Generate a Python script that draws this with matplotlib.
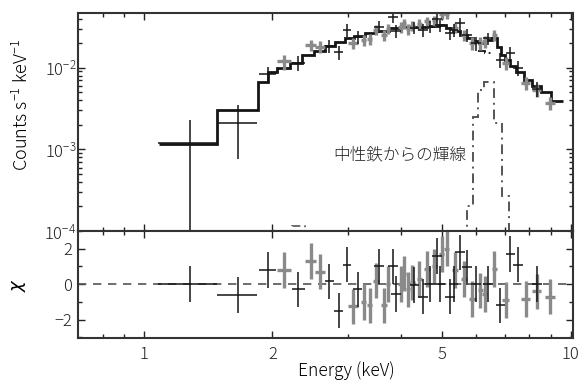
import numpy as np
import matplotlib
matplotlib.use("Agg")
import matplotlib.pyplot as plt
from matplotlib.ticker import LogLocator, FixedLocator, NullFormatter, FixedFormatter

plt.rcParams['font.family'] = ['Noto Sans CJK JP', 'DejaVu Sans']
plt.rcParams['font.weight'] = 'light'
plt.rcParams['axes.labelweight'] = 'light'
plt.rcParams['mathtext.fontset'] = 'custom'
plt.rcParams['mathtext.rm'] = 'Noto Sans CJK JP:light'
plt.rcParams['mathtext.it'] = 'DejaVu Sans:italic'

# ---- data ----
black_e = [1.28, 1.66, 1.95, 2.30, 2.72, 2.86, 2.99, 3.17, 3.55, 3.83, 3.89, 4.30, 4.51,
           4.68, 4.86, 4.94, 5.22, 5.31, 5.51, 5.72, 6.01, 6.41, 6.84, 7.22, 7.51, 8.32]
black_hw = [0.2, 0.18, 0.09, 0.08, 0.07, 0.07, 0.07, 0.08, 0.1, 0.1, 0.1, 0.11, 0.12,
            0.12, 0.13, 0.13, 0.14, 0.14, 0.15, 0.15, 0.16, 0.17, 0.18, 0.19, 0.2, 0.22]
black_flux = [1.2e-3, 2.1e-3, 8.5e-3, 1.15e-2, 1.85e-2, 1.55e-2, 2.9e-2, 2.4e-2, 3.2e-2,
              4.2e-2, 2.8e-2, 3.1e-2, 2.9e-2, 3.2e-2, 4.0e-2, 3.3e-2, 2.7e-2, 2.9e-2,
              3.5e-2, 2.5e-2, 2.0e-2, 2.3e-2, 1.25e-2, 1.5e-2, 1.0e-2, 5.5e-3]
black_err_hi = [1.1e-3, 1.4e-3, 1.8e-3, 2.3e-3, 3.5e-3, 3.0e-3, 5.5e-3, 4.5e-3, 5.5e-3,
                7e-3, 5e-3, 5e-3, 5e-3, 5.5e-3, 6.5e-3, 5.5e-3, 5e-3, 5e-3, 6e-3, 4.5e-3,
                4e-3, 4e-3, 2.5e-3, 3e-3, 2e-3, 1.1e-3]
black_err_lo = [1.19e-3, 1.33e-3, 1.8e-3, 2.3e-3, 3.5e-3, 3.0e-3, 5.5e-3, 4.5e-3, 5.5e-3,
                7e-3, 5e-3, 5e-3, 5e-3, 5.5e-3, 6.5e-3, 5.5e-3, 5e-3, 5e-3, 6e-3, 4.5e-3,
                4e-3, 4e-3, 2.5e-3, 3e-3, 2e-3, 1.1e-3]
black_chi = [0.0, -0.62, 0.8, -0.3, 0.15, -1.5, 1.1, -0.3, 1.0, 1.0, -0.55, -0.05, -0.7,
             0.0, 1.6, 0.0, -0.7, 0.0, 1.8, 0.95, 0.0, 0.0, -1.2, 1.7, 1.1, 0.0]

gray_e = [2.13, 2.46, 2.59, 3.09, 3.27, 3.38, 3.50, 3.65, 3.73, 4.00, 4.07, 4.15, 4.25, 4.41,
          4.61, 4.79, 4.98, 5.12, 5.36, 5.63, 5.88, 6.14, 6.28, 6.62, 7.03, 7.83, 8.32, 8.93]
gray_hw = [0.08, 0.07, 0.07, 0.08, 0.05, 0.05, 0.06, 0.05, 0.05, 0.06, 0.05, 0.05, 0.06, 0.06,
           0.07, 0.07, 0.07, 0.07, 0.08, 0.09, 0.1, 0.08, 0.08, 0.1, 0.12, 0.2, 0.2, 0.25]
gray_flux = [1.2e-2, 1.9e-2, 1.8e-2, 2.0e-2, 2.2e-2, 2.25e-2, 2.9e-2, 2.5e-2, 3.0e-2, 3.15e-2,
             3.5e-2, 3.0e-2, 3.25e-2, 3.4e-2, 3.7e-2, 3.8e-2, 4.6e-2, 4.5e-2, 3.1e-2, 2.5e-2,
             2.0e-2, 2.0e-2, 2.1e-2, 2.5e-2, 1.15e-2, 6.5e-3, 5.4e-3, 3.7e-3]
gray_err = [2.5e-3, 3e-3, 3e-3, 3e-3, 3.5e-3, 3.5e-3, 4e-3, 4e-3, 4e-3, 4.5e-3, 5e-3, 4.5e-3,
            4.5e-3, 5e-3, 5e-3, 5.5e-3, 6e-3, 6e-3, 4.5e-3, 4e-3, 3.5e-3, 3.5e-3, 3.5e-3, 4e-3,
            2e-3, 1.2e-3, 1e-3, 7e-4]
gray_chi = [0.8, 1.3, 0.7, -1.25, -1.0, -1.2, 0.2, -1.2, 0.0, 0.0, 0.6, -0.3, 0.1, 0.3, 0.85,
            1.0, 1.7, 2.0, 0.8, 0.3, -0.85, -0.35, -0.55, 0.85, -0.9, -0.85, -0.4, -0.7]

# total model (step)
model_edges = [1.085, 1.485, 1.85, 1.95, 2.05, 2.2, 2.35, 2.5, 2.65, 2.8, 2.95, 3.1, 3.3, 3.5,
               3.75, 4.0, 4.3, 4.6, 4.9, 5.1, 5.3, 5.5, 5.7, 5.9, 6.1, 6.3, 6.55, 6.7, 6.85,
               7.0, 7.2, 7.45, 7.75, 8.1, 8.5, 9.0, 9.6]
model_vals = [1.15e-3, 3.0e-3, 6.7e-3, 8.9e-3, 1.0e-2, 1.15e-2, 1.45e-2, 1.6e-2, 1.85e-2,
              2.05e-2, 2.3e-2, 2.45e-2, 2.65e-2, 2.85e-2, 3.05e-2, 3.15e-2, 3.2e-2, 3.25e-2,
              3.3e-2, 3.05e-2, 2.8e-2, 2.55e-2, 2.3e-2, 2.1e-2, 2.0e-2, 2.2e-2, 2.3e-2, 1.8e-2,
              1.45e-2, 1.25e-2, 1.05e-2, 8.9e-3, 7.1e-3, 6.0e-3, 5.0e-3, 3.9e-3]
# continuum under the Fe line
cont_edges = [6.05, 6.3, 6.6]
cont_vals = [1.6e-2, 1.5e-2]
# neutral Fe line component
fe_edges = [5.7, 5.9, 6.05, 6.25, 6.6, 6.88, 7.15]
fe_vals = [2.0e-4, 2.5e-3, 5.4e-3, 6.7e-3, 2.1e-3, 2.7e-4]
# weak line near 2.3 keV
s_edges = [2.22, 2.39]
s_vals = [1.15e-4]

BLACK = '#151515'
GRAY = '#8a8a8a'

fig = plt.figure(figsize=(5.85, 3.9), dpi=100)
gs = fig.add_gridspec(2, 1, height_ratios=[218, 107], hspace=0,
                      left=0.133, right=0.979, top=0.967, bottom=0.133)
ax = fig.add_subplot(gs[0])
axr = fig.add_subplot(gs[1], sharex=ax)

# ---- spectrum ----
ax.errorbar(gray_e, gray_flux, xerr=gray_hw, yerr=gray_err, fmt='none',
            ecolor=GRAY, elinewidth=2.4, capsize=0)
ax.errorbar(black_e, black_flux, xerr=black_hw, yerr=[black_err_lo, black_err_hi],
            fmt='none', ecolor=BLACK, elinewidth=1.1, capsize=0)
ax.stairs(model_vals, model_edges, baseline=None, color=BLACK, lw=2.0)
ax.stairs(cont_vals, cont_edges, baseline=None, color=BLACK, lw=1.3,
          linestyle=(0, (5, 2, 1, 2)))
ax.stairs(fe_vals, fe_edges, baseline=1e-6, color='#555555', lw=1.4,
          linestyle=(0, (5, 2.5, 1, 2.5)))
ax.stairs(s_vals, s_edges, baseline=1e-6, color='#555555', lw=1.2,
          linestyle=(0, (5, 2.5, 1, 2.5)))

ax.set_xscale('log')
ax.set_yscale('log')
ax.set_xlim(0.7, 10.1)
ax.set_ylim(1e-4, 4.7e-2)
ax.set_ylabel('Counts s$^{-1}$ keV$^{-1}$', fontsize=13)
ax.yaxis.set_label_coords(-0.092, 0.58)
ax.text(3.98, 8.5e-4, '中性鉄からの輝線', fontsize=12, ha='center', va='center',
        color='#222222')

# ---- residuals ----
axr.axhline(0, color='#555555', lw=1.2, linestyle=(0, (5, 4)))
axr.errorbar(gray_e, gray_chi, xerr=gray_hw, yerr=1.0, fmt='none',
             ecolor=GRAY, elinewidth=2.4, capsize=0)
axr.errorbar(black_e, black_chi, xerr=black_hw, yerr=1.0, fmt='none',
             ecolor=BLACK, elinewidth=1.1, capsize=0)
axr.set_ylim(-3.05, 3.0)
axr.set_ylabel(r'$\chi$', fontsize=13)
axr.yaxis.set_label_coords(-0.1, 0.5)
axr.set_xlabel('Energy (keV)', fontsize=12.5)
axr.xaxis.set_label_coords(0.543, -0.22)

axr.xaxis.set_major_locator(FixedLocator([1, 2, 5, 10]))
axr.xaxis.set_major_formatter(FixedFormatter(['1', '2', '5', '10']))
axr.xaxis.set_minor_locator(FixedLocator([0.8, 0.9, 3, 4, 6, 7, 8, 9]))
axr.xaxis.set_minor_formatter(NullFormatter())
axr.yaxis.set_major_locator(FixedLocator([-2, 0, 2]))
axr.yaxis.set_minor_locator(FixedLocator([-3, -1, 1, 3]))
ax.yaxis.set_major_locator(LogLocator(base=10, numticks=10))
ax.yaxis.set_minor_locator(LogLocator(base=10, subs=np.arange(2, 10), numticks=10))
ax.yaxis.set_minor_formatter(NullFormatter())
plt.setp(ax.get_xticklabels(), visible=False)

for a in (ax, axr):
    a.tick_params(which='both', direction='in', top=True, right=True, colors='#222222',
                  labelsize=12, width=1.0)
    a.tick_params(which='major', length=5)
    a.tick_params(which='minor', length=3)
    for s in a.spines.values():
        s.set_linewidth(1.5)
        s.set_color('#333333')
ax.tick_params(axis='y', pad=1)
axr.tick_params(axis='y', pad=4)
axr.tick_params(axis='x', pad=6)

fig.savefig('out.png', dpi=100)
